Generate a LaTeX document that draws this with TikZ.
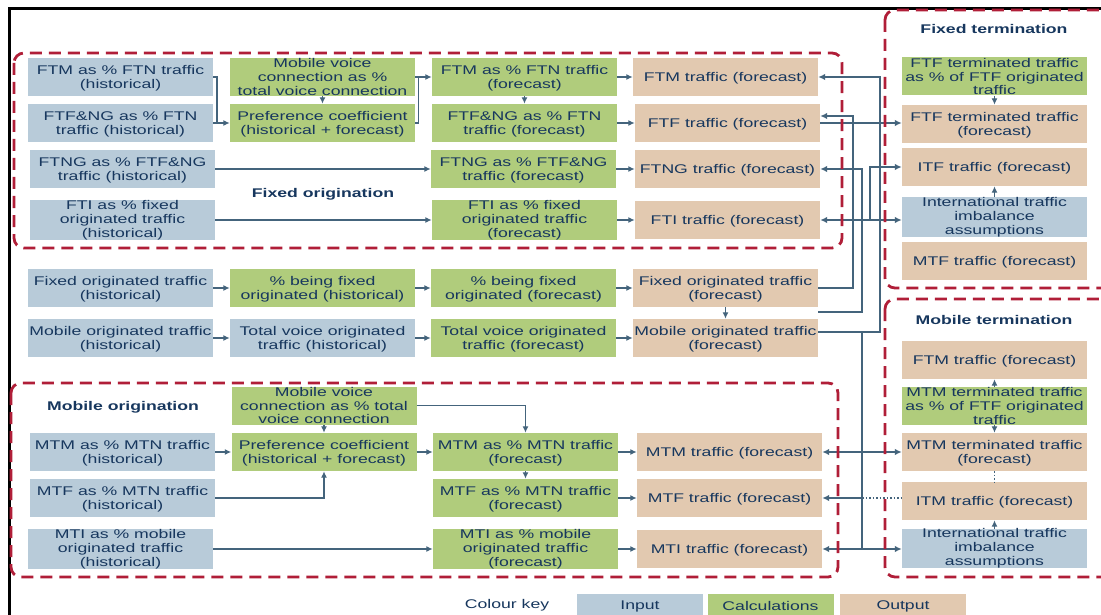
\documentclass[tikz,border=0pt]{standalone}
\usepackage{fontspec}
\setmainfont{Liberation Sans}[FakeStretch=1.4]
\usetikzlibrary{arrows.meta}
\definecolor{inpc}{RGB}{184,203,217}
\definecolor{calc}{RGB}{176,204,124}
\definecolor{outc}{RGB}{226,201,176}
\definecolor{txt}{RGB}{23,55,94}
\definecolor{lnc}{RGB}{68,100,124}
\definecolor{dred}{RGB}{176,30,56}
\newcommand\tup{\rule{0pt}{12.2pt}}
\begin{document}
\begin{tikzpicture}[x=1pt,y=-1pt,
  every node/.style={font=\fontsize{12.6}{13.8}\selectfont, text=txt},
  bx/.style={minimum width=185pt, minimum height=38pt, inner sep=0pt, align=center},
  inp/.style={bx, fill=inpc},
  cal/.style={bx, fill=calc},
  outp/.style={bx, fill=outc},
  ttl/.style={font=\fontsize{12.6}{14}\selectfont\bfseries},
  keyb/.style={minimum width=126pt, minimum height=21pt, inner sep=0pt},
  ln/.style={draw=lnc, line width=1.5pt},
  arr/.style={ln, -{Latex[length=6.5pt,width=6pt]}},
  bus/.style={draw=lnc, line width=2pt},
  arrb/.style={bus, -{Latex[length=7pt,width=6.5pt]}},
  arrbb/.style={bus, {Latex[length=7pt,width=6.5pt]}-{Latex[length=7pt,width=6.5pt]}},
  dotln/.style={draw=lnc, line width=1.5pt, dotted},
  grp/.style={draw=dred, line width=2.8pt, dash pattern=on 12pt off 7pt, rounded corners=10pt},
]
\clip (0,0) rectangle (1101,615);
\fill[white] (0,0) rectangle (1101,615);
\draw[black, line width=2.5pt] (9.5,615) -- (9.5,8.5) -- (1101,8.5);

% ---- Fixed origination
\node[inp] (fa) at (120.5,77) {\tup FTM as \% FTN traffic\\(historical)};
\node[inp] (fb) at (120.5,123) {\tup FTF\&NG as \% FTN\\traffic (historical)};
\node[inp] (fc) at (122.5,169) {\tup FTNG as \% FTF\&NG\\traffic (historical)};
\node[inp] (fd) at (122.5,220) {FTI as \% fixed\\originated traffic\\(historical)};
\node[cal] (fmv) at (322.5,77) {Mobile voice\\connection as \%\\total voice connection};
\node[cal] (fpc) at (322.5,123) {\tup Preference coefficient\\(historical + forecast)};
\node[cal] (fe) at (524.5,77) {\tup FTM as \% FTN traffic\\(forecast)};
\node[cal] (ff) at (524.5,123) {\tup FTF\&NG as \% FTN\\traffic (forecast)};
\node[cal] (fg) at (523.5,169) {\tup FTNG as \% FTF\&NG\\traffic (forecast)};
\node[cal] (fh) at (524.5,220) {FTI as \% fixed\\originated traffic\\(forecast)};
\node[outp] (fo1) at (725.5,77) {\tup FTM traffic (forecast)};
\node[outp] (fo2) at (727.5,123) {\tup FTF traffic (forecast)};
\node[outp] (fo3) at (727.5,169) {\tup FTNG traffic (forecast)};
\node[outp] (fo4) at (727.5,220) {\tup FTI traffic (forecast)};
\node[ttl] (lfo) at (323,194) {Fixed origination};

% ---- Middle rows
\node[inp] (ma) at (120.5,288) {\tup Fixed originated traffic\\(historical)};
\node[cal] (mb) at (322.5,288) {\tup \% being fixed\\originated (historical)};
\node[cal] (mc) at (523.5,288) {\tup \% being fixed\\originated (forecast)};
\node[outp] (md) at (725.5,288) {\tup Fixed originated traffic\\(forecast)};
\node[inp] (me) at (120.5,338) {\tup Mobile originated traffic\\(historical)};
\node[inp] (mf) at (322.5,338) {\tup Total voice originated\\traffic (historical)};
\node[cal] (mg) at (523.5,338) {\tup Total voice originated\\traffic (forecast)};
\node[outp] (mh) at (725.5,338) {\tup Mobile originated traffic\\(forecast)};

% ---- Mobile origination
\node[ttl] (lmo) at (123,407) {Mobile origination};
\node[cal] (omv) at (324,405.5) {Mobile voice\\connection as \% total\\voice connection};
\node[inp] (oa) at (122.5,452) {\tup MTM as \% MTN traffic\\(historical)};
\node[inp] (ob) at (122.5,498) {\tup MTF as \% MTN traffic\\(historical)};
\node[inp] (oc) at (120.5,549) {MTI as \% mobile\\originated traffic\\(historical)};
\node[cal] (opc) at (324,452) {\tup Preference coefficient\\(historical + forecast)};
\node[cal] (od) at (525.5,452) {\tup MTM as \% MTN traffic\\(forecast)};
\node[cal] (oe) at (525.5,498) {\tup MTF as \% MTN traffic\\(forecast)};
\node[cal] (og) at (525.5,549) {MTI as \% mobile\\originated traffic\\(forecast)};
\node[outp] (oo1) at (729.5,452) {\tup MTM traffic (forecast)};
\node[outp] (oo2) at (729.5,498) {\tup MTF traffic (forecast)};
\node[outp] (oo3) at (729.5,549) {\tup MTI traffic (forecast)};

% ---- Fixed termination
\node[ttl] (lft) at (994,29) {Fixed termination};
\node[cal] (ta) at (994.5,76.5) {FTF terminated traffic\\as \% of FTF originated\\traffic};
\node[outp] (tb) at (994.5,124) {\tup FTF terminated traffic\\(forecast)};
\node[outp] (tc) at (994.5,167) {\tup ITF traffic (forecast)};
\node[inp] (td) at (994.5,217) {International traffic\\imbalance\\assumptions};
\node[outp] (te) at (994.5,260.5) {\tup MTF traffic (forecast)};

% ---- Mobile termination
\node[ttl] (lmt) at (994,320) {Mobile termination};
\node[outp] (ua) at (994.5,360) {\tup FTM traffic (forecast)};
\node[cal] (ub) at (994.5,406) {MTM terminated traffic\\as \% of FTF originated\\traffic};
\node[outp] (uc) at (994.5,452) {\tup MTM terminated traffic\\(forecast)};
\node[outp] (ud) at (994.5,501) {\tup ITM traffic (forecast)};
\node[inp] (ue) at (994.5,548.5) {International traffic\\imbalance\\assumptions};

% ---- Colour key
\node (lck) at (507,605.5) {Colour key};
\node[keyb, fill=inpc] (kin) at (640,604.5) {\tup Input};
\node[keyb, fill=calc] (kca) at (770.5,604.5) {\tup Calculations};
\node[keyb, fill=outc] (kou) at (903,604.5) {\tup Output};

% ---- connectors, fixed origination
\draw[ln] (fa.east) -- ++(4,0) coordinate (br1) -- (br1 |- fb.east);
\draw[arr] (fb.east) -- (fpc.west);
\draw[arr] (fmv.south) -- (fpc.north);
\draw[ln] (fmv.east) -- ++(4,0);
\draw[arr] (fpc.east) -- ++(3.5,0) |- (fe.west);
\draw[arr] (fe.south) -- (ff.north);
\draw[arr] (fe) -- (fo1);
\draw[arr] (ff) -- (fo2);
\draw[arr] (fc) -- (fg);
\draw[arr] (fg) -- (fo3);
\draw[arr] (fd) -- (fh);
\draw[arr] (fh) -- (fo4);

% ---- middle
\draw[arr] (ma) -- (mb);
\draw[arr] (mb) -- (mc);
\draw[arr] (mc) -- (md);
\draw[arr] (me) -- (mf);
\draw[arr] (mf) -- (mg);
\draw[arr] (mg) -- (mh);
\draw[arr] (md.south) -- (mh.north);

% ---- mobile origination
\draw[arr] (omv.east) -| (od.north);
\draw[arr] (omv.south) -- (opc.north);
\draw[arr] (oa) -- (opc);
\draw[arr] (ob.east) -| (opc.south);
\draw[arr] (opc) -- (od);
\draw[arr] (od.south) -- (oe.north);
\draw[arr] (od) -- (oo1);
\draw[arr] (oe) -- (oo2);
\draw[arr] (oc) -- (og);
\draw[arr] (og) -- (oo3);

% ---- buses
\coordinate (xA) at (853,0);
\coordinate (xB) at (862,0);
\coordinate (xE) at (870,0);
\coordinate (xD) at (880,0);
\coordinate (jm) at (862,332);
\coordinate (s312) at (818,312);
\coordinate (fo2in) at ([yshift=7pt]fo2.east);
\draw[bus] ([yshift=6pt]mh.east) -- (jm) -- (xB |- oo3.east);
\draw[arrb] (jm) -| (xD |- fo1.east) -- (fo1.east);
\draw[arrb] (md.east) -| (xA |- fo2in) -- (fo2in);
\draw[arrb] (s312) -| (xB |- fo3.east) -- (fo3.east);
\draw[arrb] (fo2.east) -- (fo2.east -| tb.west);
\draw[arrbb] (fo4.east) -- (fo4.east -| td.west);
\draw[arrb] (xE |- fo4.east) |- (tc.west);
\draw[arrb] (xB |- oo1.east) -- (oo1.east);
\draw[arrb] (xB |- oo1.east) -- (oo1.east -| uc.west);
\draw[arrb] (xB |- oo2.east) -- (oo2.east);
\draw[dotln] (xB |- oo2.east) -- (oo2.east -| ud.west);
\draw[arrb] (xB |- oo3.east) -- (oo3.east);
\draw[arrb] (xB |- oo3.east) -- (oo3.east -| ue.west);

% ---- termination arrows
\draw[arr] (ta.south) -- (tb.north);
\draw[arr] (td.north) -- (tc.south);
\draw[arr] (ub.north) -- (ua.south);
\draw[arr] (ub.south) -- (uc.north);
\draw[dotln] (uc.south) -- (ud.north);
\draw[arr] (ue.north) -- (ud.south);

% ---- dashed groups
\draw[grp] (14,53) rectangle (842,248);
\draw[grp] (11,383) rectangle (838,577);
\draw[grp] (885,10) rectangle (1115,288);
\draw[grp] (885,299) rectangle (1115,577);
\end{tikzpicture}
\end{document}
